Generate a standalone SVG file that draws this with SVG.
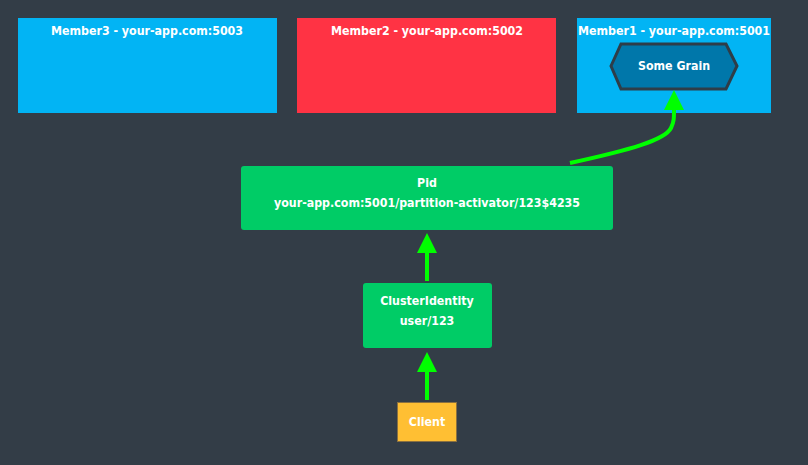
<svg xmlns="http://www.w3.org/2000/svg" width="808" height="465" viewBox="0 0 808 465">
<style>
text{font-family:"Trebuchet MS","DejaVu Sans Condensed","DejaVu Sans",sans-serif;font-weight:bold;font-size:12.3px;fill:#ffffff;text-anchor:middle}
.edge{fill:none;stroke:#00ff00;stroke-width:4}
</style>
<defs>
<marker id="ah" viewBox="0 0 24 20" refX="0" refY="10" markerWidth="24" markerHeight="20" markerUnits="userSpaceOnUse" orient="auto">
<path d="M0,0 L20,10 L0,20 Z" fill="#00ff00"/>
</marker>
</defs>
<rect width="808" height="465" fill="#333d47"/>
<g id="member3">
<rect x="18" y="18" width="259" height="95" fill="#02b4f4"/>
<text x="147" y="35">Member3 - your-app.com:5003</text>
</g>
<g id="member2">
<rect x="297" y="18" width="259" height="95" fill="#ff3344"/>
<text x="427" y="35">Member2 - your-app.com:5002</text>
</g>
<g id="member1">
<rect x="577" y="18" width="194" height="95" fill="#02b4f4"/>
<text x="674" y="35">Member1 - your-app.com:5001</text>
</g>
<g id="grain">
<polygon points="611,66 621,44 726,44 737,66 726,89 621,89" fill="#0077aa" stroke="#2e3d48" stroke-width="3"/>
<text x="674" y="70">Some Grain</text>
</g>
<g id="pid">
<rect x="241" y="166" width="372" height="64" rx="3" fill="#00cc66"/>
<text x="427" y="187">Pid</text>
<text x="427" y="207">your-app.com:5001/partition-activator/123$4235</text>
</g>
<g id="clusteridentity">
<rect x="363" y="283" width="129" height="65" rx="3" fill="#00cc66"/>
<text x="427" y="305">ClusterIdentity</text>
<text x="427" y="325">user/123</text>
</g>
<g id="client">
<rect x="397.5" y="402.5" width="59" height="39" fill="#ffbf33" stroke="#8a7040" stroke-width="1"/>
<text x="427" y="426">Client</text>
</g>
<g id="connectors">
<path class="edge" d="M427,400 L427,372" marker-end="url(#ah)"/>
<path class="edge" d="M427,281 L427,253" marker-end="url(#ah)"/>
<path class="edge" d="M570,163 C630,150 665,140 671,128 C674,122 674,118 674,110" marker-end="url(#ah)"/>
</g>
</svg>
